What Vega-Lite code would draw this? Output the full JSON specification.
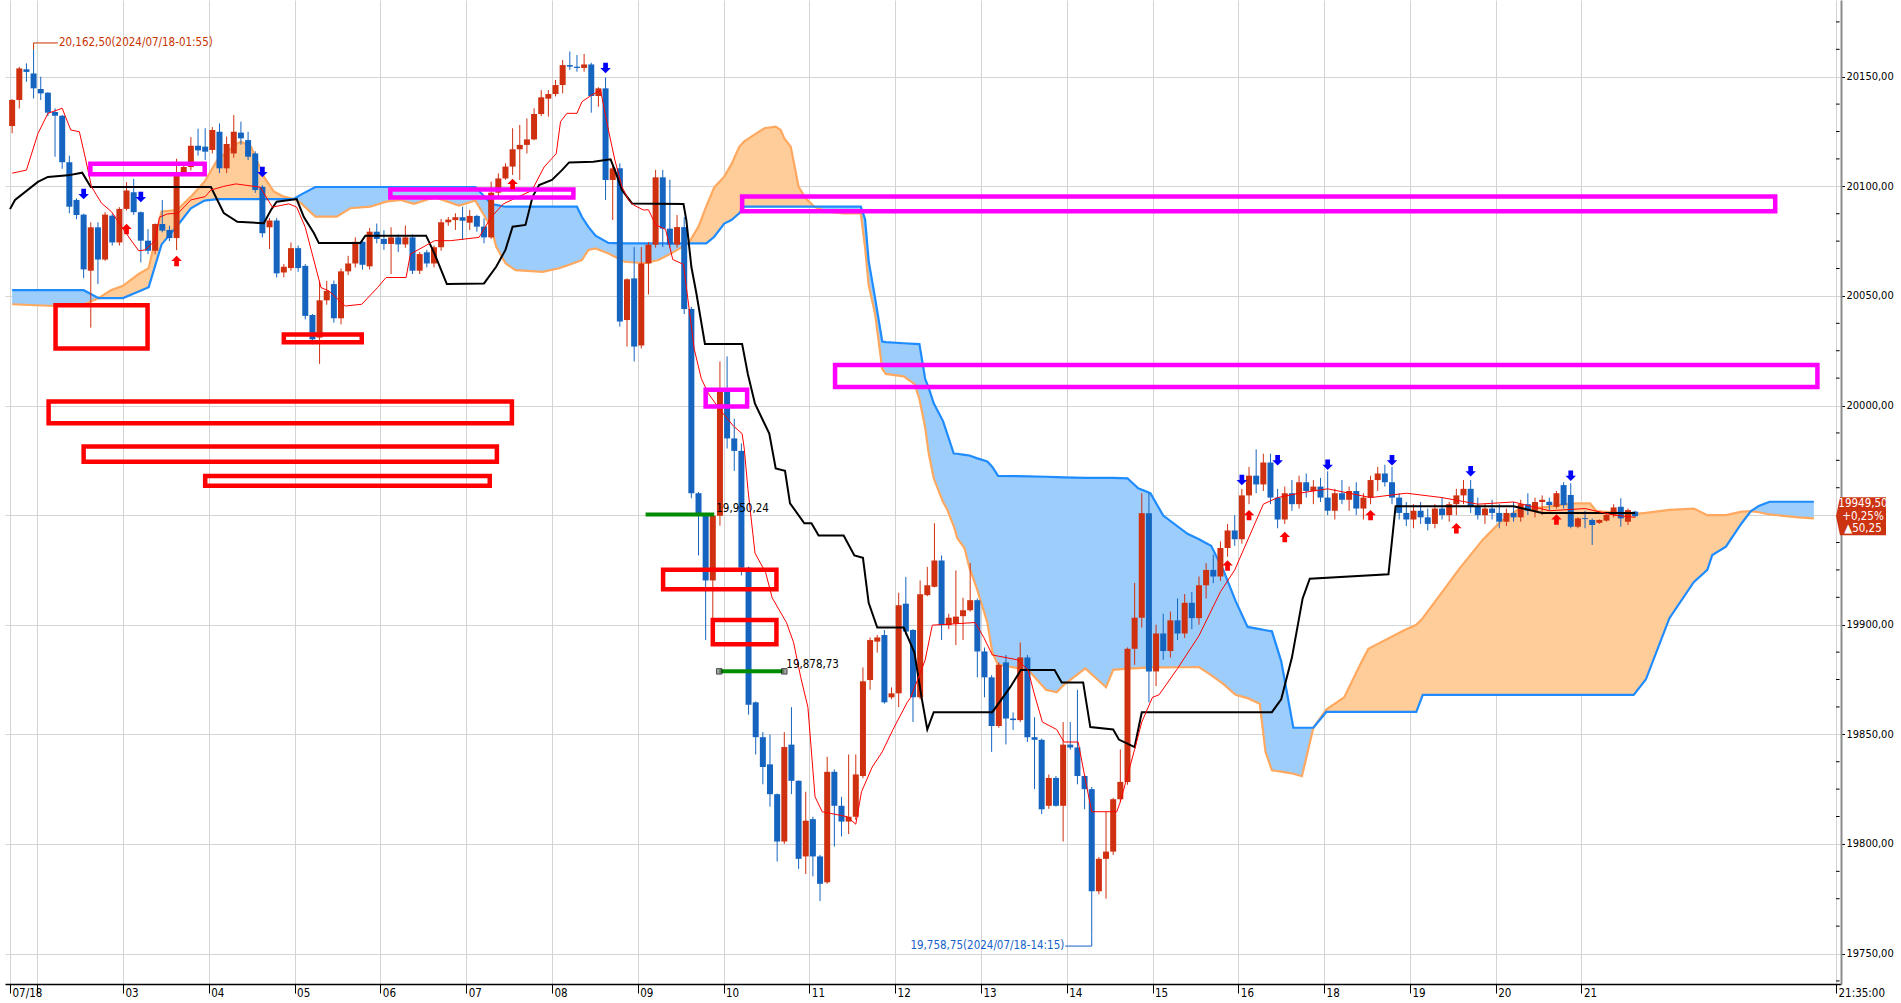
{
"$schema": "https://vega.github.io/schema/vega-lite/v6.json",
"width": 1836, "height": 984,
"padding": {"left": 5, "top": 0, "right": 0, "bottom": 0},
"autosize": {"type": "pad"},
"background": "white",
"config": {"view": {"stroke": null}},
"datasets": {
"candles": [
{"i":0,"o":20127.5,"h":20139.8,"l":20124.2,"c":20139.4},
{"i":1,"o":20139.4,"h":20154.5,"l":20135.5,"c":20153.8},
{"i":2,"o":20153.4,"h":20156.1,"l":20147.7,"c":20152.2},
{"i":3,"o":20151.5,"h":20162.5,"l":20140.1,"c":20144.7},
{"i":4,"o":20144.4,"h":20150,"l":20139.4,"c":20142.4},
{"i":5,"o":20142.7,"h":20143,"l":20132,"c":20133.6},
{"i":6,"o":20133.9,"h":20135.6,"l":20113.5,"c":20132.2},
{"i":7,"o":20132.2,"h":20132.5,"l":20108,"c":20111},
{"i":8,"o":20111,"h":20114,"l":20087.7,"c":20090.7},
{"i":9,"o":20093.8,"h":20094.5,"l":20085,"c":20086.9},
{"i":10,"o":20087.1,"h":20087.5,"l":20058.1,"c":20062.1},
{"i":11,"o":20061.5,"h":20083.6,"l":20035.5,"c":20081.3},
{"i":12,"o":20081.3,"h":20083.6,"l":20055.4,"c":20066.6},
{"i":13,"o":20066.6,"h":20088.2,"l":20066,"c":20087.1},
{"i":14,"o":20086.6,"h":20087.5,"l":20073,"c":20074.4},
{"i":15,"o":20074.4,"h":20090.5,"l":20073,"c":20089.7},
{"i":16,"o":20089.7,"h":20101.9,"l":20089,"c":20098.1},
{"i":17,"o":20097.3,"h":20103.4,"l":20087,"c":20088.2},
{"i":18,"o":20088.2,"h":20088.5,"l":20065.3,"c":20075.2},
{"i":19,"o":20075.2,"h":20080.5,"l":20069,"c":20070.6},
{"i":20,"o":20070.6,"h":20083,"l":20069,"c":20082.8},
{"i":21,"o":20082.8,"h":20093.8,"l":20079,"c":20079.8},
{"i":22,"o":20080.1,"h":20082,"l":20075,"c":20076.4},
{"i":23,"o":20076.4,"h":20112.6,"l":20070.9,"c":20106.5},
{"i":24,"o":20106.5,"h":20111,"l":20105,"c":20108.8},
{"i":25,"o":20108.8,"h":20122.5,"l":20107.2,"c":20118.5},
{"i":26,"o":20118.5,"h":20126.3,"l":20114,"c":20116.4},
{"i":27,"o":20118.1,"h":20126.5,"l":20112,"c":20115.8},
{"i":28,"o":20116.6,"h":20127,"l":20115,"c":20125.7},
{"i":29,"o":20124.9,"h":20128.7,"l":20106,"c":20108.2},
{"i":30,"o":20108.2,"h":20122.7,"l":20106,"c":20119.3},
{"i":31,"o":20115,"h":20132.5,"l":20113,"c":20124.9},
{"i":32,"o":20124.5,"h":20129.5,"l":20119,"c":20121.9},
{"i":33,"o":20121.1,"h":20124.9,"l":20112,"c":20113.5},
{"i":34,"o":20115,"h":20116,"l":20097,"c":20098.3},
{"i":35,"o":20099.8,"h":20100.5,"l":20076.7,"c":20078.6},
{"i":36,"o":20081.3,"h":20085.5,"l":20071.4,"c":20084.4},
{"i":37,"o":20084.4,"h":20085.5,"l":20058.4,"c":20060.3},
{"i":38,"o":20060.7,"h":20064.5,"l":20058.5,"c":20063.3},
{"i":39,"o":20062.7,"h":20074.4,"l":20061.5,"c":20071.8},
{"i":40,"o":20071.8,"h":20073,"l":20061,"c":20062.7},
{"i":41,"o":20063.7,"h":20064.5,"l":20039.3,"c":20040.9},
{"i":42,"o":20041.3,"h":20041.8,"l":20027.9,"c":20030.2},
{"i":43,"o":20031,"h":20056.9,"l":20019,"c":20048},
{"i":44,"o":20048,"h":20056.9,"l":20046,"c":20052.3},
{"i":45,"o":20055.4,"h":20057,"l":20037.8,"c":20039.8},
{"i":46,"o":20039.8,"h":20062.5,"l":20037,"c":20061.2},
{"i":47,"o":20061.2,"h":20068.3,"l":20059.5,"c":20064.8},
{"i":48,"o":20064.8,"h":20076.7,"l":20063,"c":20074.7},
{"i":49,"o":20074.7,"h":20076,"l":20062,"c":20064.2},
{"i":50,"o":20063.5,"h":20081,"l":20062,"c":20079.3},
{"i":51,"o":20079.3,"h":20083,"l":20074,"c":20076},
{"i":52,"o":20076,"h":20080,"l":20071,"c":20073.7},
{"i":53,"o":20073.7,"h":20081.3,"l":20060,"c":20076.7},
{"i":54,"o":20076.7,"h":20078,"l":20070,"c":20073.5},
{"i":55,"o":20073.5,"h":20082.1,"l":20072,"c":20076.7},
{"i":56,"o":20076.7,"h":20078,"l":20060,"c":20061.5},
{"i":57,"o":20061.5,"h":20070,"l":20060,"c":20069.1},
{"i":58,"o":20069.9,"h":20071,"l":20063,"c":20064.8},
{"i":59,"o":20064.8,"h":20073,"l":20063,"c":20072.2},
{"i":60,"o":20072.2,"h":20085.1,"l":20070.6,"c":20083.6},
{"i":61,"o":20083.6,"h":20086,"l":20082,"c":20084.8},
{"i":62,"o":20084.6,"h":20087.7,"l":20080.1,"c":20085.9},
{"i":63,"o":20085.9,"h":20090.7,"l":20075.5,"c":20084.3},
{"i":64,"o":20083.4,"h":20089.2,"l":20080.1,"c":20086.5},
{"i":65,"o":20086.5,"h":20087,"l":20079.3,"c":20081.6},
{"i":66,"o":20081.6,"h":20085.4,"l":20074,"c":20076.7},
{"i":67,"o":20076.7,"h":20102.1,"l":20076,"c":20097.1},
{"i":68,"o":20097.1,"h":20105.9,"l":20095.3,"c":20103.6},
{"i":69,"o":20103.6,"h":20110.5,"l":20103,"c":20109},
{"i":70,"o":20109,"h":20126.5,"l":20105.2,"c":20116.9},
{"i":71,"o":20116.9,"h":20128,"l":20102.9,"c":20118.9},
{"i":72,"o":20118.9,"h":20131,"l":20115,"c":20121.4},
{"i":73,"o":20121.4,"h":20135.6,"l":20121,"c":20133},
{"i":74,"o":20133,"h":20143.9,"l":20132,"c":20140.6},
{"i":75,"o":20140,"h":20143.9,"l":20131.8,"c":20142.1},
{"i":76,"o":20142.1,"h":20148.5,"l":20141,"c":20146.2},
{"i":77,"o":20146.2,"h":20157.6,"l":20142.4,"c":20155.3},
{"i":78,"o":20155.3,"h":20161.5,"l":20153.1,"c":20154.6},
{"i":79,"o":20154.6,"h":20159.9,"l":20152.3,"c":20154},
{"i":80,"o":20154,"h":20160.4,"l":20152.3,"c":20155.6},
{"i":81,"o":20155.6,"h":20156.4,"l":20133.6,"c":20141.2},
{"i":82,"o":20141.2,"h":20145.2,"l":20136.3,"c":20144.7},
{"i":83,"o":20144.7,"h":20149.7,"l":20093.8,"c":20102.9},
{"i":84,"o":20102.9,"h":20109.7,"l":20084.6,"c":20108.2},
{"i":85,"o":20108.2,"h":20110.5,"l":20036,"c":20038.3},
{"i":86,"o":20039,"h":20058,"l":20026.9,"c":20057.6},
{"i":87,"o":20058,"h":20072.3,"l":20020.1,"c":20026.9},
{"i":88,"o":20027.4,"h":20072.3,"l":20026,"c":20064.8},
{"i":89,"o":20064.8,"h":20074.6,"l":20050.7,"c":20073.4},
{"i":90,"o":20073.4,"h":20107.5,"l":20072,"c":20104.1},
{"i":91,"o":20104.1,"h":20107.5,"l":20072.3,"c":20080.7},
{"i":92,"o":20080.7,"h":20103,"l":20072,"c":20073.4},
{"i":93,"o":20073.4,"h":20086.9,"l":20072,"c":20081.4},
{"i":94,"o":20081.4,"h":20086,"l":20041.7,"c":20044},
{"i":95,"o":20044,"h":20045,"l":19957.7,"c":19960},
{"i":96,"o":19960,"h":19960.5,"l":19931.6,"c":19950.9},
{"i":97,"o":19950.9,"h":19951,"l":19893,"c":19920.2},
{"i":98,"o":19920.2,"h":19950.9,"l":19898,"c":19949.7},
{"i":99,"o":19949.7,"h":20020.1,"l":19945.2,"c":20006.5},
{"i":100,"o":20006.5,"h":20022.4,"l":19980.4,"c":19985},
{"i":101,"o":19985,"h":19994,"l":19970.2,"c":19979.3},
{"i":102,"o":19979.3,"h":19982.7,"l":19922.5,"c":19926},
{"i":103,"o":19926,"h":19926.5,"l":19859,"c":19863.5},
{"i":104,"o":19864.6,"h":19865,"l":19840.8,"c":19848.7},
{"i":105,"o":19848.7,"h":19851,"l":19827.2,"c":19835.1},
{"i":106,"o":19836.3,"h":19849.9,"l":19817,"c":19822.7},
{"i":107,"o":19822.7,"h":19823,"l":19792,"c":19801.1},
{"i":108,"o":19801.1,"h":19851,"l":19800,"c":19844.2},
{"i":109,"o":19845.3,"h":19862.4,"l":19822.7,"c":19828.8},
{"i":110,"o":19828.8,"h":19829,"l":19788.6,"c":19793.2},
{"i":111,"o":19794.3,"h":19823.8,"l":19786.3,"c":19810.6},
{"i":112,"o":19811.3,"h":19812.4,"l":19785.2,"c":19794.3},
{"i":113,"o":19794.3,"h":19795,"l":19773.9,"c":19781.8},
{"i":114,"o":19782.5,"h":19839.7,"l":19781.8,"c":19832.9},
{"i":115,"o":19832.9,"h":19834,"l":19798.8,"c":19817.4},
{"i":116,"o":19817.4,"h":19821.5,"l":19803.4,"c":19810.2},
{"i":117,"o":19810.2,"h":19840.8,"l":19804.5,"c":19812.4},
{"i":118,"o":19812.4,"h":19840.8,"l":19811,"c":19831.7},
{"i":119,"o":19831,"h":19880.5,"l":19830,"c":19874.2},
{"i":120,"o":19874.8,"h":19894.2,"l":19870.3,"c":19893},
{"i":121,"o":19892.3,"h":19895.3,"l":19887.3,"c":19894.2},
{"i":122,"o":19895.3,"h":19897.6,"l":19864,"c":19864.6},
{"i":123,"o":19866.9,"h":19871.4,"l":19866,"c":19868.7},
{"i":124,"o":19868.7,"h":19914.6,"l":19862.4,"c":19908.9},
{"i":125,"o":19909.6,"h":19921.8,"l":19895.3,"c":19896.9},
{"i":126,"o":19897.6,"h":19898,"l":19855.6,"c":19866.9},
{"i":127,"o":19866.9,"h":19920.2,"l":19866,"c":19913.9},
{"i":128,"o":19913.5,"h":19926.4,"l":19913,"c":19918},
{"i":129,"o":19917.3,"h":19946.3,"l":19917,"c":19929.3},
{"i":130,"o":19929.3,"h":19931.6,"l":19893,"c":19899.8},
{"i":131,"o":19899.8,"h":19905,"l":19898,"c":19903.2},
{"i":132,"o":19900.5,"h":19924.8,"l":19890.7,"c":19903.7},
{"i":133,"o":19903.9,"h":19912.3,"l":19893,"c":19906.6},
{"i":134,"o":19906.6,"h":19928.2,"l":19906,"c":19911.2},
{"i":135,"o":19911.2,"h":19912,"l":19876,"c":19887.8},
{"i":136,"o":19887.8,"h":19889.6,"l":19866.9,"c":19876},
{"i":137,"o":19876,"h":19877,"l":19842,"c":19853.8},
{"i":138,"o":19853.8,"h":19882.8,"l":19853,"c":19881.7},
{"i":139,"o":19882.8,"h":19886.2,"l":19845.4,"c":19857.2},
{"i":140,"o":19857.2,"h":19860,"l":19852,"c":19856.5},
{"i":141,"o":19856.5,"h":19891.9,"l":19855.6,"c":19885.1},
{"i":142,"o":19885.1,"h":19886.2,"l":19846.5,"c":19848.7},
{"i":143,"o":19848.7,"h":19857.8,"l":19825,"c":19847.5},
{"i":144,"o":19847.5,"h":19848,"l":19813.6,"c":19815.8},
{"i":145,"o":19817.4,"h":19831.7,"l":19816,"c":19830.1},
{"i":146,"o":19830.1,"h":19831,"l":19817,"c":19817.4},
{"i":147,"o":19817.4,"h":19855.6,"l":19801.1,"c":19845.3},
{"i":148,"o":19845.3,"h":19855.6,"l":19843,"c":19844},
{"i":149,"o":19844,"h":19870.3,"l":19827.2,"c":19831},
{"i":150,"o":19831,"h":19831.5,"l":19815.8,"c":19825},
{"i":151,"o":19825,"h":19826,"l":19758.75,"c":19778.4},
{"i":152,"o":19778.4,"h":19794,"l":19777,"c":19793.2},
{"i":153,"o":19793.2,"h":19814.7,"l":19775,"c":19796.5},
{"i":154,"o":19796.5,"h":19821,"l":19795,"c":19820.4},
{"i":155,"o":19820.4,"h":19843.1,"l":19819,"c":19828.3},
{"i":156,"o":19828.3,"h":19889.6,"l":19827,"c":19889},
{"i":157,"o":19889,"h":19919.1,"l":19881.7,"c":19903.2},
{"i":158,"o":19903.2,"h":19960,"l":19898.7,"c":19950.9},
{"i":159,"o":19950.9,"h":19960,"l":19864.6,"c":19878.7},
{"i":160,"o":19878.7,"h":19900,"l":19872,"c":19896},
{"i":161,"o":19896,"h":19905,"l":19884,"c":19888},
{"i":162,"o":19888,"h":19906,"l":19885,"c":19902},
{"i":163,"o":19902,"h":19912,"l":19893,"c":19896},
{"i":164,"o":19896,"h":19914,"l":19894,"c":19910},
{"i":165,"o":19910,"h":19915,"l":19898,"c":19903},
{"i":166,"o":19903,"h":19922,"l":19900,"c":19918},
{"i":167,"o":19918,"h":19928,"l":19912,"c":19925},
{"i":168,"o":19925,"h":19932,"l":19919,"c":19922},
{"i":169,"o":19922,"h":19938,"l":19920,"c":19935},
{"i":170,"o":19935,"h":19946,"l":19931,"c":19943},
{"i":171,"o":19943,"h":19950,"l":19936,"c":19939},
{"i":172,"o":19939,"h":19962,"l":19937,"c":19959},
{"i":173,"o":19959,"h":19972,"l":19955,"c":19968},
{"i":174,"o":19968,"h":19980,"l":19960,"c":19964},
{"i":175,"o":19964,"h":19978,"l":19961,"c":19974},
{"i":176,"o":19974,"h":19978,"l":19955,"c":19958},
{"i":177,"o":19958,"h":19962,"l":19944,"c":19948},
{"i":178,"o":19948,"h":19963,"l":19946,"c":19960},
{"i":179,"o":19960,"h":19966,"l":19952,"c":19955},
{"i":180,"o":19955,"h":19968,"l":19953,"c":19965},
{"i":181,"o":19965,"h":19969,"l":19958,"c":19961},
{"i":182,"o":19961,"h":19966,"l":19955,"c":19963},
{"i":183,"o":19963,"h":19967,"l":19956,"c":19958},
{"i":184,"o":19958,"h":19970,"l":19950,"c":19952},
{"i":185,"o":19952,"h":19962,"l":19948,"c":19960},
{"i":186,"o":19960,"h":19966,"l":19955,"c":19957},
{"i":187,"o":19957,"h":19963,"l":19952,"c":19961},
{"i":188,"o":19961,"h":19965,"l":19950,"c":19953},
{"i":189,"o":19953,"h":19960,"l":19948,"c":19958},
{"i":190,"o":19958,"h":19968,"l":19955,"c":19966},
{"i":191,"o":19966,"h":19972,"l":19961,"c":19969},
{"i":192,"o":19969,"h":19973,"l":19963,"c":19965},
{"i":193,"o":19965,"h":19972,"l":19955,"c":19958},
{"i":194,"o":19958,"h":19960,"l":19948,"c":19951},
{"i":195,"o":19951,"h":19956,"l":19945,"c":19948},
{"i":196,"o":19948,"h":19955,"l":19944,"c":19952},
{"i":197,"o":19952,"h":19956,"l":19946,"c":19949},
{"i":198,"o":19949,"h":19953,"l":19943,"c":19946},
{"i":199,"o":19946,"h":19955,"l":19944,"c":19953},
{"i":200,"o":19953,"h":19958,"l":19948,"c":19950},
{"i":201,"o":19950,"h":19956,"l":19947,"c":19955},
{"i":202,"o":19955,"h":19962,"l":19950,"c":19959},
{"i":203,"o":19959,"h":19966,"l":19955,"c":19962},
{"i":204,"o":19962,"h":19966,"l":19951,"c":19954},
{"i":205,"o":19954,"h":19958,"l":19948,"c":19950},
{"i":206,"o":19950,"h":19955,"l":19946,"c":19953},
{"i":207,"o":19953,"h":19957,"l":19948,"c":19951},
{"i":208,"o":19951,"h":19955,"l":19944,"c":19947},
{"i":209,"o":19947,"h":19953,"l":19945,"c":19951},
{"i":210,"o":19951,"h":19956,"l":19947,"c":19949},
{"i":211,"o":19949,"h":19957,"l":19947,"c":19955},
{"i":212,"o":19955,"h":19960,"l":19950,"c":19952},
{"i":213,"o":19952,"h":19958,"l":19949,"c":19956},
{"i":214,"o":19956,"h":19959,"l":19950,"c":19957},
{"i":215,"o":19956.1,"h":19958,"l":19952,"c":19954.6},
{"i":216,"o":19953.8,"h":19961,"l":19953,"c":19960},
{"i":217,"o":19963.7,"h":19965,"l":19953,"c":19954.6},
{"i":218,"o":19959.2,"h":19964.5,"l":19944,"c":19944.7},
{"i":219,"o":19944.7,"h":19949,"l":19944,"c":19948.5},
{"i":220,"o":19948.6,"h":19952,"l":19944,"c":19948.2},
{"i":221,"o":19947.8,"h":19948.5,"l":19936.4,"c":19945.5},
{"i":222,"o":19946.5,"h":19948,"l":19946,"c":19947.8},
{"i":223,"o":19947.5,"h":19951,"l":19947,"c":19950.1},
{"i":224,"o":19950.1,"h":19955,"l":19949,"c":19953.5},
{"i":225,"o":19953.8,"h":19957.7,"l":19944.7,"c":19948.5},
{"i":226,"o":19947,"h":19953,"l":19945.5,"c":19952.3},
{"i":227,"o":19951.6,"h":19952,"l":19949,"c":19949.5}
],
"cloud": [
{"i":0,"blue":20052.6,"orange":20046.2,"seg":"b1"},
{"i":6,"blue":20052.6,"orange":20045.4,"seg":"b1"},
{"i":10,"blue":20052.6,"orange":20046,"seg":"b1"},
{"i":12.1,"blue":20049,"orange":20049,"seg":"b1"},
{"i":12.1,"blue":20049,"orange":20049,"seg":"o1"},
{"i":13.8,"blue":20049,"orange":20052.6,"seg":"o1"},
{"i":15.5,"blue":20049,"orange":20054.6,"seg":"o1"},
{"i":17.7,"blue":20052,"orange":20060,"seg":"o1"},
{"i":19.1,"blue":20054,"orange":20062.7,"seg":"o1"},
{"i":20.9,"blue":20073.5,"orange":20088.5,"seg":"o1"},
{"i":23.1,"blue":20082,"orange":20089.2,"seg":"o1"},
{"i":25,"blue":20090,"orange":20095.3,"seg":"o1"},
{"i":26.9,"blue":20093.5,"orange":20102.1,"seg":"o1"},
{"i":28.7,"blue":20094.2,"orange":20112,"seg":"o1"},
{"i":31.5,"blue":20094.2,"orange":20119.6,"seg":"o1"},
{"i":32,"blue":20094.2,"orange":20120.4,"seg":"o1"},
{"i":33.4,"blue":20094.2,"orange":20118.1,"seg":"o1"},
{"i":35.2,"blue":20094.2,"orange":20104.4,"seg":"o1"},
{"i":36.6,"blue":20094.2,"orange":20097.6,"seg":"o1"},
{"i":38,"blue":20094.2,"orange":20095.3,"seg":"o1"},
{"i":39.4,"blue":20094.2,"orange":20094.2,"seg":"o1"},
{"i":39.4,"blue":20094.2,"orange":20094.2,"seg":"b2"},
{"i":40.4,"blue":20096.2,"orange":20092.3,"seg":"b2"},
{"i":42.4,"blue":20099.7,"orange":20086.2,"seg":"b2"},
{"i":45.4,"blue":20099.7,"orange":20086.2,"seg":"b2"},
{"i":47.3,"blue":20099.7,"orange":20090,"seg":"b2"},
{"i":50.1,"blue":20099.7,"orange":20090.7,"seg":"b2"},
{"i":52.3,"blue":20099.7,"orange":20093,"seg":"b2"},
{"i":54.3,"blue":20099.7,"orange":20093.8,"seg":"b2"},
{"i":56.2,"blue":20099.7,"orange":20092,"seg":"b2"},
{"i":59.1,"blue":20099.7,"orange":20095,"seg":"b2"},
{"i":62.5,"blue":20099.7,"orange":20091.2,"seg":"b2"},
{"i":64.8,"blue":20099.7,"orange":20093.5,"seg":"b2"},
{"i":67,"blue":20092,"orange":20081.3,"seg":"b2"},
{"i":67.7,"blue":20091.5,"orange":20072.5,"seg":"b2"},
{"i":69,"blue":20090.7,"orange":20064.9,"seg":"b2"},
{"i":70.4,"blue":20090.7,"orange":20061.8,"seg":"b2"},
{"i":74.2,"blue":20090.7,"orange":20061,"seg":"b2"},
{"i":76.5,"blue":20090.7,"orange":20062.6,"seg":"b2"},
{"i":79,"blue":20090.7,"orange":20065.5,"seg":"b2"},
{"i":79.7,"blue":20086,"orange":20066.4,"seg":"b2"},
{"i":80.6,"blue":20081.5,"orange":20071,"seg":"b2"},
{"i":81.6,"blue":20077.5,"orange":20071.7,"seg":"b2"},
{"i":83.4,"blue":20074.2,"orange":20069.4,"seg":"b2"},
{"i":85.7,"blue":20074,"orange":20065.6,"seg":"b2"},
{"i":88.5,"blue":20074,"orange":20064.9,"seg":"b2"},
{"i":90.4,"blue":20074,"orange":20066.4,"seg":"b2"},
{"i":92.2,"blue":20074,"orange":20069.4,"seg":"b2"},
{"i":94.6,"blue":20074,"orange":20074,"seg":"b2"},
{"i":94.6,"blue":20074,"orange":20074,"seg":"o2"},
{"i":96,"blue":20074,"orange":20081.6,"seg":"o2"},
{"i":97.1,"blue":20074,"orange":20091,"seg":"o2"},
{"i":98.2,"blue":20077,"orange":20099.5,"seg":"o2"},
{"i":99.6,"blue":20083,"orange":20104.4,"seg":"o2"},
{"i":100.6,"blue":20084.6,"orange":20110,"seg":"o2"},
{"i":101.7,"blue":20087.7,"orange":20118,"seg":"o2"},
{"i":102.4,"blue":20090.7,"orange":20120.5,"seg":"o2"},
{"i":103.4,"blue":20090.7,"orange":20122.7,"seg":"o2"},
{"i":105.2,"blue":20090.7,"orange":20126.5,"seg":"o2"},
{"i":106.8,"blue":20090.7,"orange":20127.2,"seg":"o2"},
{"i":107.5,"blue":20090.7,"orange":20125.7,"seg":"o2"},
{"i":108,"blue":20090.7,"orange":20121.9,"seg":"o2"},
{"i":108.9,"blue":20090.7,"orange":20118.1,"seg":"o2"},
{"i":110,"blue":20090.7,"orange":20099.8,"seg":"o2"},
{"i":111,"blue":20090.7,"orange":20094.5,"seg":"o2"},
{"i":112.2,"blue":20090.7,"orange":20090.7,"seg":"o2"},
{"i":112.2,"blue":20090.7,"orange":20090.7,"seg":"b3"},
{"i":114,"blue":20090.7,"orange":20088.4,"seg":"b3"},
{"i":116.3,"blue":20090.7,"orange":20087.7,"seg":"b3"},
{"i":118.7,"blue":20090.7,"orange":20087.7,"seg":"b3"},
{"i":119.3,"blue":20085,"orange":20072,"seg":"b3"},
{"i":119.8,"blue":20066,"orange":20055,"seg":"b3"},
{"i":120.7,"blue":20049,"orange":20041.7,"seg":"b3"},
{"i":121.7,"blue":20029.2,"orange":20016.7,"seg":"b3"},
{"i":122.2,"blue":20028.9,"orange":20014.4,"seg":"b3"},
{"i":124.7,"blue":20028.4,"orange":20013.3,"seg":"b3"},
{"i":126.2,"blue":20028.1,"orange":20009.9,"seg":"b3"},
{"i":126.9,"blue":20028,"orange":20003,"seg":"b3"},
{"i":127.7,"blue":20012.2,"orange":19990,"seg":"b3"},
{"i":128.2,"blue":20008,"orange":19978.1,"seg":"b3"},
{"i":128.9,"blue":20001,"orange":19966.8,"seg":"b3"},
{"i":130.2,"blue":19992.9,"orange":19956,"seg":"b3"},
{"i":130.7,"blue":19988,"orange":19953.2,"seg":"b3"},
{"i":131.7,"blue":19978.1,"orange":19945,"seg":"b3"},
{"i":132.2,"blue":19978,"orange":19939.5,"seg":"b3"},
{"i":133.2,"blue":19977.5,"orange":19935,"seg":"b3"},
{"i":133.9,"blue":19977.2,"orange":19925.9,"seg":"b3"},
{"i":134.9,"blue":19976,"orange":19916.8,"seg":"b3"},
{"i":136.4,"blue":19974.5,"orange":19901,"seg":"b3"},
{"i":137.1,"blue":19972,"orange":19887.3,"seg":"b3"},
{"i":137.9,"blue":19967.9,"orange":19881.7,"seg":"b3"},
{"i":142.1,"blue":19967.7,"orange":19879.4,"seg":"b3"},
{"i":144.6,"blue":19967.5,"orange":19870.3,"seg":"b3"},
{"i":146.1,"blue":19967.3,"orange":19869.2,"seg":"b3"},
{"i":147.1,"blue":19967.2,"orange":19872.6,"seg":"b3"},
{"i":150.1,"blue":19967,"orange":19880.1,"seg":"b3"},
{"i":153,"blue":19967,"orange":19871.5,"seg":"b3"},
{"i":154,"blue":19967,"orange":19879.4,"seg":"b3"},
{"i":156,"blue":19966.8,"orange":19880,"seg":"b3"},
{"i":157.5,"blue":19962.2,"orange":19880.2,"seg":"b3"},
{"i":159.2,"blue":19960,"orange":19880.5,"seg":"b3"},
{"i":161,"blue":19949.8,"orange":19880.5,"seg":"b3"},
{"i":164.4,"blue":19941.5,"orange":19880.6,"seg":"b3"},
{"i":166,"blue":19939,"orange":19880.7,"seg":"b3"},
{"i":167.7,"blue":19936,"orange":19877,"seg":"b3"},
{"i":169.4,"blue":19925,"orange":19873,"seg":"b3"},
{"i":171.1,"blue":19911,"orange":19868,"seg":"b3"},
{"i":172.8,"blue":19899,"orange":19866.5,"seg":"b3"},
{"i":174.5,"blue":19898,"orange":19864,"seg":"b3"},
{"i":175.3,"blue":19897.5,"orange":19842,"seg":"b3"},
{"i":176.2,"blue":19897,"orange":19833.6,"seg":"b3"},
{"i":177.5,"blue":19883.4,"orange":19833,"seg":"b3"},
{"i":179.2,"blue":19853,"orange":19832,"seg":"b3"},
{"i":180.4,"blue":19853,"orange":19830.9,"seg":"b3"},
{"i":182,"blue":19853,"orange":19853,"seg":"b3"},
{"i":182,"blue":19853,"orange":19853,"seg":"o3"},
{"i":183.8,"blue":19860.2,"orange":19861.3,"seg":"o3"},
{"i":186.3,"blue":19860.2,"orange":19866.8,"seg":"o3"},
{"i":188.8,"blue":19860.2,"orange":19883.4,"seg":"o3"},
{"i":189.7,"blue":19860.2,"orange":19889,"seg":"o3"},
{"i":194.7,"blue":19860.2,"orange":19897.5,"seg":"o3"},
{"i":196.4,"blue":19860.2,"orange":19900,"seg":"o3"},
{"i":197.3,"blue":19868,"orange":19903,"seg":"o3"},
{"i":199.8,"blue":19868,"orange":19914,"seg":"o3"},
{"i":202.3,"blue":19868,"orange":19925,"seg":"o3"},
{"i":205.7,"blue":19868,"orange":19938.8,"seg":"o3"},
{"i":208.2,"blue":19868,"orange":19947,"seg":"o3"},
{"i":210.7,"blue":19868,"orange":19952.6,"seg":"o3"},
{"i":214.6,"blue":19868,"orange":19953.8,"seg":"o3"},
{"i":218.3,"blue":19868,"orange":19955.4,"seg":"o3"},
{"i":220.7,"blue":19868,"orange":19955.4,"seg":"o3"},
{"i":221.6,"blue":19868,"orange":19951.8,"seg":"o3"},
{"i":226.8,"blue":19868,"orange":19950.5,"seg":"o3"},
{"i":228.5,"blue":19875,"orange":19951,"seg":"o3"},
{"i":231.8,"blue":19903,"orange":19952.4,"seg":"o3"},
{"i":235.2,"blue":19919.4,"orange":19953,"seg":"o3"},
{"i":237.1,"blue":19925,"orange":19950,"seg":"o3"},
{"i":237.8,"blue":19931.8,"orange":19950,"seg":"o3"},
{"i":239.7,"blue":19935.6,"orange":19950,"seg":"o3"},
{"i":241.9,"blue":19946.3,"orange":19951.6,"seg":"o3"},
{"i":243.2,"blue":19951.8,"orange":19951.8,"seg":"o3"},
{"i":243.2,"blue":19951.8,"orange":19951.8,"seg":"b4"},
{"i":244.3,"blue":19954.2,"orange":19951.3,"seg":"b4"},
{"i":245.8,"blue":19956.1,"orange":19950.3,"seg":"b4"},
{"i":249.9,"blue":19956.1,"orange":19949,"seg":"b4"},
{"i":252,"blue":19956.1,"orange":19948.5,"seg":"b4"}
],
"kijun": [
{"i":-0.3,"v":20089.6},{"i":0.4,"v":20093.8},{"i":3.6,"v":20102},{"i":5,"v":20104.3},{"i":7.8,"v":20105},{"i":9.8,"v":20106.2},{"i":11,"v":20099.7},{"i":27.8,"v":20099.7},{"i":29.6,"v":20087.8},{"i":31.5,"v":20083.8},{"i":35.2,"v":20083.2},{"i":36.2,"v":20089.2},{"i":37,"v":20093},{"i":39.8,"v":20094.2},{"i":40.8,"v":20086},{"i":42.2,"v":20078.7},{"i":42.9,"v":20074.1},{"i":48.7,"v":20074.1},{"i":49.4,"v":20077.5},{"i":57.9,"v":20077.5},{"i":59.1,"v":20069.1},{"i":60.8,"v":20055.4},{"i":66,"v":20055.7},{"i":67.7,"v":20063.3},{"i":69,"v":20071},{"i":70,"v":20081.6},{"i":71.8,"v":20082.4},{"i":72.8,"v":20095.3},{"i":73.7,"v":20100.6},{"i":75.5,"v":20102.9},{"i":76.9,"v":20107.4},{"i":77.9,"v":20110.9},{"i":81.3,"v":20111.2},{"i":83.7,"v":20112.3},{"i":84.3,"v":20107.4},{"i":85.3,"v":20098.3},{"i":86.7,"v":20092.2},{"i":93.9,"v":20091.9},{"i":94.3,"v":20084.6},{"i":95,"v":20063.3},{"i":95.7,"v":20051.2},{"i":96.9,"v":20028.1},{"i":102.1,"v":20028.1},{"i":102.9,"v":20014.4},{"i":103.9,"v":20000.8},{"i":105.9,"v":19987.2},{"i":106.8,"v":19971.3},{"i":108.1,"v":19970.2},{"i":108.8,"v":19955.4},{"i":110.8,"v":19946.3},{"i":111.8,"v":19946.3},{"i":112.8,"v":19940.7},{"i":116.3,"v":19940.7},{"i":117.8,"v":19931.6},{"i":119,"v":19930.5},{"i":119.8,"v":19910},{"i":121,"v":19898.7},{"i":124.7,"v":19898.7},{"i":126.2,"v":19887.3},{"i":127.2,"v":19866.9},{"i":128,"v":19852.2},{"i":128.9,"v":19860.1},{"i":137.1,"v":19860.1},{"i":139.6,"v":19871.5},{"i":141.1,"v":19879.4},{"i":145.8,"v":19879.4},{"i":146.8,"v":19873.7},{"i":149.8,"v":19873.7},{"i":150.8,"v":19853.3},{"i":154,"v":19852.2},{"i":154.8,"v":19847.6},{"i":157,"v":19844.2},{"i":157.5,"v":19852.2},{"i":158,"v":19860.1},{"i":176.2,"v":19860.1},{"i":177.5,"v":19866},{"i":179,"v":19885},{"i":180.5,"v":19912},{"i":181.5,"v":19921},{"i":192.5,"v":19923},{"i":193.5,"v":19954},{"i":210,"v":19954},{"i":214,"v":19951},{"i":227,"v":19951}
],
"tenkan": [
{"i":0,"v":20106},{"i":2,"v":20107.4},{"i":3.6,"v":20124},{"i":5,"v":20133.3},{"i":7,"v":20135.6},{"i":8.2,"v":20125.7},{"i":9.4,"v":20124.9},{"i":10.2,"v":20113.5},{"i":11.1,"v":20099.8},{"i":12.5,"v":20092.3},{"i":13.9,"v":20088.4},{"i":16,"v":20078.3},{"i":17.7,"v":20070.6},{"i":18.6,"v":20071},{"i":20,"v":20075.2},{"i":20.6,"v":20085.9},{"i":21.7,"v":20087.4},{"i":23.2,"v":20087.7},{"i":24.1,"v":20090.7},{"i":25,"v":20093.8},{"i":27,"v":20095.3},{"i":27.8,"v":20098.3},{"i":29.6,"v":20100},{"i":31.3,"v":20101.1},{"i":34.7,"v":20099.6},{"i":36.4,"v":20090.5},{"i":38.7,"v":20092},{"i":39.8,"v":20090.5},{"i":41,"v":20081.3},{"i":43.2,"v":20053.8},{"i":44.3,"v":20052.3},{"i":46.6,"v":20045.4},{"i":48.9,"v":20046.2},{"i":51.1,"v":20053.8},{"i":52.3,"v":20058.4},{"i":55.1,"v":20058.4},{"i":55.7,"v":20069.1},{"i":59.1,"v":20075.2},{"i":61.3,"v":20075.2},{"i":65.3,"v":20076.7},{"i":67,"v":20085.9},{"i":68.7,"v":20092},{"i":72.7,"v":20098.1},{"i":74.4,"v":20108.8},{"i":76.1,"v":20114.9},{"i":76.7,"v":20129.5},{"i":77.6,"v":20133.3},{"i":79,"v":20133.3},{"i":79.7,"v":20138.6},{"i":81.1,"v":20141.7},{"i":82.3,"v":20143.9},{"i":83.4,"v":20125.7},{"i":84.3,"v":20112},{"i":85.3,"v":20099.8},{"i":86.2,"v":20093.8},{"i":86.9,"v":20091.5},{"i":88.3,"v":20089.2},{"i":89,"v":20089.3},{"i":90,"v":20082.5},{"i":91.4,"v":20080.3},{"i":92.4,"v":20066.6},{"i":93.9,"v":20064.4},{"i":95.4,"v":20025.8},{"i":96.4,"v":20012.2},{"i":97.4,"v":20005.4},{"i":98.9,"v":19998.5},{"i":100.9,"v":19990.6},{"i":102.1,"v":19987.2},{"i":102.4,"v":19980.4},{"i":102.9,"v":19962.2},{"i":103.9,"v":19932.7},{"i":105.4,"v":19923.7},{"i":106.3,"v":19912.3},{"i":108.3,"v":19901},{"i":109.3,"v":19891.9},{"i":110.3,"v":19876},{"i":111.3,"v":19862.4},{"i":112.3,"v":19821.5},{"i":113.3,"v":19814.7},{"i":116.8,"v":19812.4},{"i":118,"v":19809},{"i":118.8,"v":19823.8},{"i":120.3,"v":19835.1},{"i":121.7,"v":19842},{"i":123.2,"v":19852.2},{"i":125.2,"v":19864.6},{"i":125.7,"v":19866.9},{"i":127.7,"v":19883.9},{"i":128.7,"v":19899.8},{"i":134.7,"v":19901},{"i":135.9,"v":19894.2},{"i":137.1,"v":19886.2},{"i":140.6,"v":19884},{"i":142.1,"v":19879.4},{"i":142.9,"v":19869.2},{"i":144.1,"v":19855.6},{"i":146.1,"v":19852.2},{"i":147.1,"v":19846.5},{"i":149.1,"v":19846.5},{"i":150.3,"v":19826.1},{"i":151,"v":19814.7},{"i":154.5,"v":19814.7},{"i":155,"v":19819.2},{"i":157,"v":19843.1},{"i":158,"v":19855.6},{"i":159.5,"v":19866.9},{"i":160.4,"v":19868},{"i":163,"v":19880},{"i":166,"v":19895},{"i":169,"v":19915},{"i":171,"v":19925},{"i":173,"v":19940},{"i":175,"v":19955},{"i":177,"v":19958},{"i":180,"v":19960},{"i":184,"v":19962},{"i":190,"v":19958},{"i":195,"v":19960},{"i":200,"v":19958},{"i":205,"v":19955},{"i":210,"v":19956},{"i":215,"v":19952},{"i":220,"v":19953},{"i":224,"v":19950},{"i":227,"v":19949}
],
"levels": [
{"p":20093.37,"set":"A","lab":"20,093,37"},
{"p":20035.48,"set":"B","lab":"20,035,48"},
{"p":19996.51,"set":"B","lab":"19,996,51"},
{"p":19978.17,"set":"B","lab":"19,978,17"},
{"p":19965.38,"set":"B","lab":"19,965,38"},
{"p":19899.09,"set":"B","lab":"19,899,09"}
],
"zones": [
{"x1":10.94,"x2":26.93,"p1":20110.3,"p2":20105.5,"set":"A"},
{"x1":52.9,"x2":78.5,"p1":20098.5,"p2":20094.9,"set":"A"},
{"x1":102.1,"x2":246.6,"p1":20095.4,"p2":20088.6,"set":"A"},
{"x1":115.1,"x2":252.5,"p1":20018.5,"p2":20008.5,"set":"A"},
{"x1":97.0,"x2":102.8,"p1":20007.2,"p2":19999.5,"set":"A"},
{"x1":6.07,"x2":18.94,"p1":20045.7,"p2":20026,"set":"B"},
{"x1":38.0,"x2":48.9,"p1":20032.4,"p2":20028.9,"set":"B"},
{"x1":5.1,"x2":69.9,"p1":20001.8,"p2":19991.9,"set":"B"},
{"x1":10.0,"x2":67.8,"p1":19981.3,"p2":19974.3,"set":"B"},
{"x1":27.0,"x2":66.8,"p1":19967.8,"p2":19963.4,"set":"B"},
{"x1":91.05,"x2":106.9,"p1":19925.1,"p2":19916.2,"set":"B"},
{"x1":98.0,"x2":106.9,"p1":19902.2,"p2":19891.1,"set":"B"}
],
"fibs": [
{"x1":88.6,"x2":98.2,"p":19950.24,"lab":"19,950,24","ends":false},
{"x1":98.9,"x2":108.0,"p":19878.73,"lab":"19,878,73","ends":true}
],
"signals": [
{"i":10,"p":20096.5,"dir":"dn"},{"i":18,"p":20095.1,"dir":"dn"},{"i":35,"p":20106.5,"dir":"dn"},{"i":83,"p":20154,"dir":"dn"},
{"i":172,"p":19966,"dir":"dn"},{"i":177,"p":19975,"dir":"dn"},{"i":184,"p":19973,"dir":"dn"},{"i":193,"p":19975,"dir":"dn"},{"i":204,"p":19970,"dir":"dn"},{"i":218,"p":19968,"dir":"dn"},
{"i":16,"p":20080.5,"dir":"up"},{"i":23,"p":20065.9,"dir":"up"},{"i":70,"p":20101.1,"dir":"up"},
{"i":170,"p":19927,"dir":"up"},{"i":173,"p":19950,"dir":"up"},{"i":178,"p":19940,"dir":"up"},{"i":190,"p":19950,"dir":"up"},{"i":202,"p":19944,"dir":"up"},{"i":216,"p":19948,"dir":"up"}
],
"extremes": [
{"kind":"high","i":3,"p":20162.5,"lab":"20,162,50(2024/07/18-01:55)","tx":6.4,"ty":20165.4},
{"kind":"low","i":151,"p":19758.75,"lab":"19,758,75(2024/07/18-14:15)","tx":147.3,"ty":19753.4},
{"kind":"last","i":255.1,"p":19949.5,"lab":"19949,50|+0,25%|▲50,25","tx":255.1,"ty":19949.5}
],
"minorticks": [
{"i":255.1,"v":19737.5},{"i":255.1,"v":19762.5},{"i":255.1,"v":19775},{"i":255.1,"v":19787.5},{"i":255.1,"v":19812.5},{"i":255.1,"v":19825},{"i":255.1,"v":19837.5},{"i":255.1,"v":19862.5},{"i":255.1,"v":19875},{"i":255.1,"v":19887.5},{"i":255.1,"v":19912.5},{"i":255.1,"v":19925},{"i":255.1,"v":19937.5},{"i":255.1,"v":19962.5},{"i":255.1,"v":19975},{"i":255.1,"v":19987.5},{"i":255.1,"v":20012.5},{"i":255.1,"v":20025},{"i":255.1,"v":20037.5},{"i":255.1,"v":20062.5},{"i":255.1,"v":20075},{"i":255.1,"v":20087.5},{"i":255.1,"v":20112.5},{"i":255.1,"v":20125},{"i":255.1,"v":20137.5},{"i":255.1,"v":20162.5},{"i":255.1,"v":20175}
]
},
"encoding": {
"x": {"field":"i","type":"quantitative","title":null,
"scale":{"domain":[-0.3,255.1],"nice":false,"zero":false},
"axis":{"values":[-0.3,3.5,15.5,27.5,39.5,51.5,63.5,75.5,87.5,99.5,111.5,123.5,135.5,147.5,159.5,171.5,183.5,195.5,207.5,219.5,255.1],
"labelExpr":"datum.value < 0 ? '07/18' : datum.value > 250 ? '21:35:00' : datum.value < 10 ? '' : datum.value < 90 ? '0' + (round((datum.value - 15.5) / 12) + 3) : datum.value < 180 ? '' + (round((datum.value - 15.5) / 12) + 3) : '' + (round((datum.value - 183.5) / 12) + 18)",
"grid":true,"gridColor":"#d4d4d4","gridWidth":1,
"domainColor":"#000000","domainWidth":1.5,
"tickColor":"#000000","tickSize":9,"tickWidth":1,
"labelAlign":"left","labelBaseline":"top","labelPadding":-6,"labelOffset":2,
"labelFont":"Liberation Sans Narrow, DejaVu Sans Condensed, Liberation Sans","labelFontSize":11.5,"labelColor":"#000000",
"labelFlush":false,"labelOverlap":false,"title":null}}
},
"layer": [
{"data":{"name":"cloud"},"transform":[{"filter":"indexof(datum.seg,'b') == 0"}],
"mark":{"type":"area","color":"#9ccdfb","opacity":1},
"encoding":{
"y":{"field":"blue","type":"quantitative","title":null,"stack":null,"scale":{"domain":[19736.1,20185],"nice":false,"zero":false},
"axis":{"orient":"right","title":null,
"values":[19750,19800,19850,19900,19950,20000,20050,20100,20150],
"labelExpr":"datum.value == 19950 ? '' : replace(format(datum.value, '.2f'), '.', ',')",
"grid":true,"gridColor":"#d4d4d4","gridWidth":1,
"domainColor":"#8c8c8c","domainWidth":2,"tickColor":"#000000","tickSize":3.5,"tickWidth":1,
"labelPadding":1.5,"labelFont":"Liberation Sans Narrow, DejaVu Sans Condensed, Liberation Sans","labelFontSize":11,"labelColor":"#000000","labelOverlap":false,"labelFlush":false}},
"y2":{"field":"orange"},
"detail":{"field":"seg","type":"nominal"}}},
{"data":{"name":"cloud"},"transform":[{"filter":"indexof(datum.seg,'o') == 0"}],
"mark":{"type":"area","color":"#ffcd9a","opacity":1},
"encoding":{
"y":{"field":"orange","type":"quantitative","title":null,"stack":null,"scale":{"domain":[19736.1,20185],"nice":false,"zero":false}},
"y2":{"field":"blue"},
"detail":{"field":"seg","type":"nominal"}}},
{"data":{"name":"cloud"},
"mark":{"type":"line","color":"#ffa860","strokeWidth":2.2},
"encoding":{"y":{"field":"orange","type":"quantitative","title":null,"scale":{"domain":[19736.1,20185],"nice":false,"zero":false}}}},
{"data":{"name":"cloud"},
"mark":{"type":"line","color":"#1e8cff","strokeWidth":2.2},
"encoding":{"y":{"field":"blue","type":"quantitative","title":null,"scale":{"domain":[19736.1,20185],"nice":false,"zero":false}}}},
{"data":{"name":"candles"},
"mark":{"type":"rule","strokeWidth":1},
"encoding":{
"y":{"field":"l","type":"quantitative","title":null,"scale":{"domain":[19736.1,20185],"nice":false,"zero":false}},
"y2":{"field":"h"},
"color":{"condition":{"test":"datum.c >= datum.o","value":"#cf3010"},"value":"#1565c0"}}},
{"data":{"name":"candles"},
"mark":{"type":"bar","size":6},
"encoding":{
"y":{"field":"o","type":"quantitative","title":null,"scale":{"domain":[19736.1,20185],"nice":false,"zero":false}},
"y2":{"field":"c"},
"color":{"condition":{"test":"datum.c >= datum.o","value":"#cf3010"},"value":"#1565c0"}}},
{"data":{"name":"kijun"},
"mark":{"type":"line","color":"#000000","strokeWidth":2},
"encoding":{"y":{"field":"v","type":"quantitative","title":null,"scale":{"domain":[19736.1,20185],"nice":false,"zero":false}}}},
{"data":{"name":"tenkan"},
"mark":{"type":"line","color":"#ff0000","strokeWidth":1},
"encoding":{"y":{"field":"v","type":"quantitative","title":null,"scale":{"domain":[19736.1,20185],"nice":false,"zero":false}}}},
{"data":{"name":"levels"},"transform":[{"filter":"datum.set == 'A'"}],
"mark":{"type":"rule","color":"#ff00ff","strokeWidth":2},
"encoding":{"x":{"datum":-0.3},"x2":{"datum":255.1},
"y":{"field":"p","type":"quantitative","title":null,"scale":{"domain":[19736.1,20185],"nice":false,"zero":false}}}},
{"data":{"name":"levels"},"transform":[{"filter":"datum.set == 'B'"}],
"mark":{"type":"rule","color":"#ff0000","strokeWidth":2},
"encoding":{"x":{"datum":-0.3},"x2":{"datum":255.1},
"y":{"field":"p","type":"quantitative","title":null,"scale":{"domain":[19736.1,20185],"nice":false,"zero":false}}}},
{"data":{"name":"levels"},
"mark":{"type":"text","align":"left","baseline":"alphabetic","dx":1,"dy":-3,"font":"Liberation Sans Narrow, DejaVu Sans Condensed, Liberation Sans","fontSize":11.5,"color":"#000000"},
"encoding":{"x":{"datum":-0.3},
"y":{"field":"p","type":"quantitative","title":null,"scale":{"domain":[19736.1,20185],"nice":false,"zero":false}},
"text":{"field":"lab"}}},
{"data":{"name":"zones"},"transform":[{"filter":"datum.set == 'A'"}],
"mark":{"type":"rect","fill":null,"fillOpacity":0,"stroke":"#ff00ff","strokeWidth":4.5},
"encoding":{"x":{"field":"x1","type":"quantitative","title":null},"x2":{"field":"x2"},
"y":{"field":"p1","type":"quantitative","title":null,"scale":{"domain":[19736.1,20185],"nice":false,"zero":false}},"y2":{"field":"p2"}}},
{"data":{"name":"zones"},"transform":[{"filter":"datum.set == 'B'"}],
"mark":{"type":"rect","fill":null,"fillOpacity":0,"stroke":"#ff0000","strokeWidth":4.5},
"encoding":{"x":{"field":"x1","type":"quantitative","title":null},"x2":{"field":"x2"},
"y":{"field":"p1","type":"quantitative","title":null,"scale":{"domain":[19736.1,20185],"nice":false,"zero":false}},"y2":{"field":"p2"}}},
{"data":{"name":"fibs"},
"mark":{"type":"rule","color":"#008c00","strokeWidth":4},
"encoding":{"x":{"field":"x1","type":"quantitative","title":null},"x2":{"field":"x2"},
"y":{"field":"p","type":"quantitative","title":null,"scale":{"domain":[19736.1,20185],"nice":false,"zero":false}}}},
{"data":{"name":"fibs"},"transform":[{"filter":"datum.ends"},{"fold":["x1","x2"],"as":["end","xe"]}],
"mark":{"type":"point","shape":"square","filled":true,"size":30,"color":"#808080","stroke":"#000000","strokeWidth":1},
"encoding":{"x":{"field":"xe","type":"quantitative","title":null},
"y":{"field":"p","type":"quantitative","title":null,"scale":{"domain":[19736.1,20185],"nice":false,"zero":false}}}},
{"data":{"name":"fibs"},
"mark":{"type":"text","align":"left","baseline":"alphabetic","dx":2,"dy":-3,"font":"Liberation Sans Narrow, DejaVu Sans Condensed, Liberation Sans","fontSize":11.5,"color":"#000000"},
"encoding":{"x":{"field":"x2","type":"quantitative","title":null},
"y":{"field":"p","type":"quantitative","title":null,"scale":{"domain":[19736.1,20185],"nice":false,"zero":false}},
"text":{"field":"lab"}}},
{"data":{"name":"signals"},"transform":[{"filter":"datum.dir == 'dn'"}],
"mark":{"type":"point","shape":"M-0.45,-1L0.45,-1L0.45,0L1,0L0,1L-1,0L-0.45,0Z","filled":true,"size":110,"color":"#0000ff","opacity":1},
"encoding":{"y":{"field":"p","type":"quantitative","title":null,"scale":{"domain":[19736.1,20185],"nice":false,"zero":false}}}},
{"data":{"name":"signals"},"transform":[{"filter":"datum.dir == 'up'"}],
"mark":{"type":"point","shape":"M-0.45,1L0.45,1L0.45,0L1,0L0,-1L-1,0L-0.45,0Z","filled":true,"size":110,"color":"#ff0000","opacity":1},
"encoding":{"y":{"field":"p","type":"quantitative","title":null,"scale":{"domain":[19736.1,20185],"nice":false,"zero":false}}}},
{"data":{"name":"minorticks"},
"mark":{"type":"point","shape":"M0,0L1,0","filled":false,"size":52,"stroke":"#000000","strokeWidth":1,"opacity":1},
"encoding":{"y":{"field":"v","type":"quantitative","title":null,"scale":{"domain":[19736.1,20185],"nice":false,"zero":false}}}},
{"data":{"name":"extremes"},"transform":[{"filter":"datum.kind == 'last'"}],
"mark":{"type":"point","shape":"M0,0L0.16,-0.76L2,-0.76L2,0.76L0.16,0.76Z","filled":true,"size":2500,"color":"#cc3311","opacity":1},
"encoding":{"y":{"field":"p","type":"quantitative","title":null,"scale":{"domain":[19736.1,20185],"nice":false,"zero":false}}}},
{"data":{"name":"extremes"},"transform":[{"filter":"datum.kind == 'last'"}],
"mark":{"type":"text","align":"center","baseline":"middle","dx":27,"dy":-12,"lineBreak":"|","lineHeight":12.5,"font":"Liberation Sans Narrow, DejaVu Sans Condensed, Liberation Sans","fontSize":11.5,"color":"#ffffff"},
"encoding":{"y":{"field":"p","type":"quantitative","title":null,"scale":{"domain":[19736.1,20185],"nice":false,"zero":false}},"text":{"field":"lab"}}},
{"data":{"name":"extremes"},"transform":[{"filter":"datum.kind == 'high'"}],
"layer":[
{"mark":{"type":"rule","color":"#c83200","strokeWidth":1},
"encoding":{"x2":{"field":"tx"},"y":{"field":"ty","type":"quantitative","title":null,"scale":{"domain":[19736.1,20185],"nice":false,"zero":false}}}},
{"mark":{"type":"rule","color":"#c83200","strokeWidth":1},
"encoding":{"y":{"field":"ty","type":"quantitative","title":null,"scale":{"domain":[19736.1,20185],"nice":false,"zero":false}},"y2":{"field":"p"}}},
{"mark":{"type":"text","align":"left","baseline":"middle","dx":1,"font":"Liberation Sans Narrow, DejaVu Sans Condensed, Liberation Sans","fontSize":11.5,"color":"#c83200"},
"encoding":{"x":{"field":"tx","type":"quantitative","title":null},"y":{"field":"ty","type":"quantitative","title":null,"scale":{"domain":[19736.1,20185],"nice":false,"zero":false}},"text":{"field":"lab"}}}
]},
{"data":{"name":"extremes"},"transform":[{"filter":"datum.kind == 'low'"}],
"layer":[
{"mark":{"type":"rule","color":"#1560c8","strokeWidth":1},
"encoding":{"x2":{"field":"tx"},"y":{"field":"ty","type":"quantitative","title":null,"scale":{"domain":[19736.1,20185],"nice":false,"zero":false}}}},
{"mark":{"type":"rule","color":"#1560c8","strokeWidth":1},
"encoding":{"y":{"field":"ty","type":"quantitative","title":null,"scale":{"domain":[19736.1,20185],"nice":false,"zero":false}},"y2":{"field":"p"}}},
{"mark":{"type":"text","align":"right","baseline":"middle","dx":-1,"font":"Liberation Sans Narrow, DejaVu Sans Condensed, Liberation Sans","fontSize":11.5,"color":"#1560c8"},
"encoding":{"x":{"field":"tx","type":"quantitative","title":null},"y":{"field":"ty","type":"quantitative","title":null,"scale":{"domain":[19736.1,20185],"nice":false,"zero":false}},"text":{"field":"lab"}}}
]}
]
}
